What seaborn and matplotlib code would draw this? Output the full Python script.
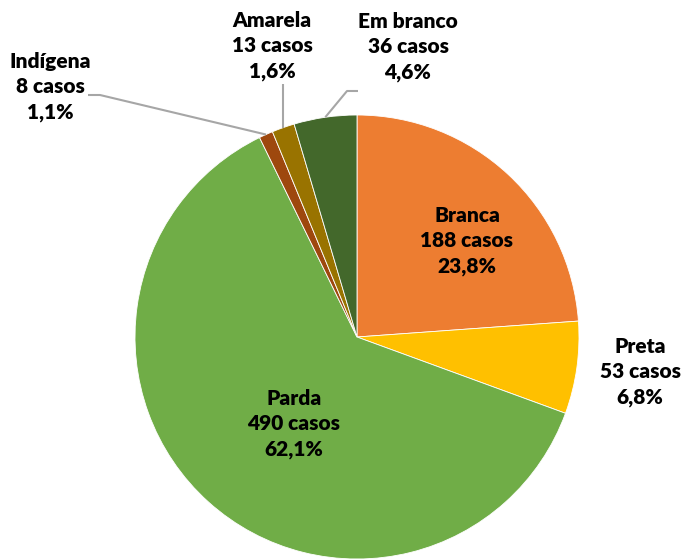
import numpy as np
import matplotlib
matplotlib.use("Agg")
import matplotlib.pyplot as plt
import seaborn as sns

sns.set_theme(style="white")
plt.rcParams['font.family'] = ['Lato', 'DejaVu Sans']

categories = ["Branca", "Preta", "Parda", "Indígena", "Amarela", "Em branco"]
casos = [188, 53, 490, 8, 13, 36]
pct_labels = ["23,8%", "6,8%", "62,1%", "1,1%", "1,6%", "4,6%"]
colors = ["#ED7D31", "#FFC000", "#70AD47", "#9E480E", "#997300", "#43682B"]

W, H = 681, 559
fig = plt.figure(figsize=(W / 100, H / 100), dpi=100)
cx, cy, R = 357, 337, 222
ax = fig.add_axes([(cx - R) / W, (H - cy - R) / H, 2 * R / W, 2 * R / H])

wedges, _ = ax.pie(casos, colors=colors, startangle=90, counterclock=False,
                   radius=1, wedgeprops=dict(edgecolor="white", linewidth=0.6))
ax.set_xlim(-1, 1)
ax.set_ylim(-1, 1)
ax.set_aspect("equal")
ax.axis("off")

def px(x, y):
    return (x - cx) / R, (cy - y) / R

# label positions (pixel coords of label centers)
label_pos = {
    "Branca": (467, 241),
    "Preta": (640, 372),
    "Parda": (294, 424),
    "Indígena": (50, 87),
    "Amarela": (272, 46),
    "Em branco": (408, 47),
}
for cat, n, p in zip(categories, casos, pct_labels):
    x, y = px(*label_pos[cat])
    ax.text(x, y, f"{cat}\n{n} casos\n{p}", ha="center", va="center",
            fontsize=15, fontweight="heavy", color="black", linespacing=1.36,
            clip_on=False)

def mid_point(w):
    ang = np.deg2rad((w.theta1 + w.theta2) / 2)
    return np.cos(ang), np.sin(ang)

line_kw = dict(color="#A6A6A6", lw=1.5, clip_on=False, solid_capstyle="butt")
# Indígena leader
wx, wy = mid_point(wedges[3])
p1 = px(88, 95); p2 = px(100, 95)
ax.plot([p1[0], p2[0], wx], [p1[1], p2[1], wy], **line_kw)
# Amarela leader
wx, wy = mid_point(wedges[4])
p1 = px(283, 84)
ax.plot([wx, wx], [p1[1], wy], **line_kw)
# Em branco leader
wx, wy = mid_point(wedges[5])
p1 = px(358, 91); p2 = px(347, 91)
ax.plot([p1[0], p2[0], wx], [p1[1], p2[1], wy], **line_kw)

fig.savefig("out.png", dpi=100, facecolor="white")
